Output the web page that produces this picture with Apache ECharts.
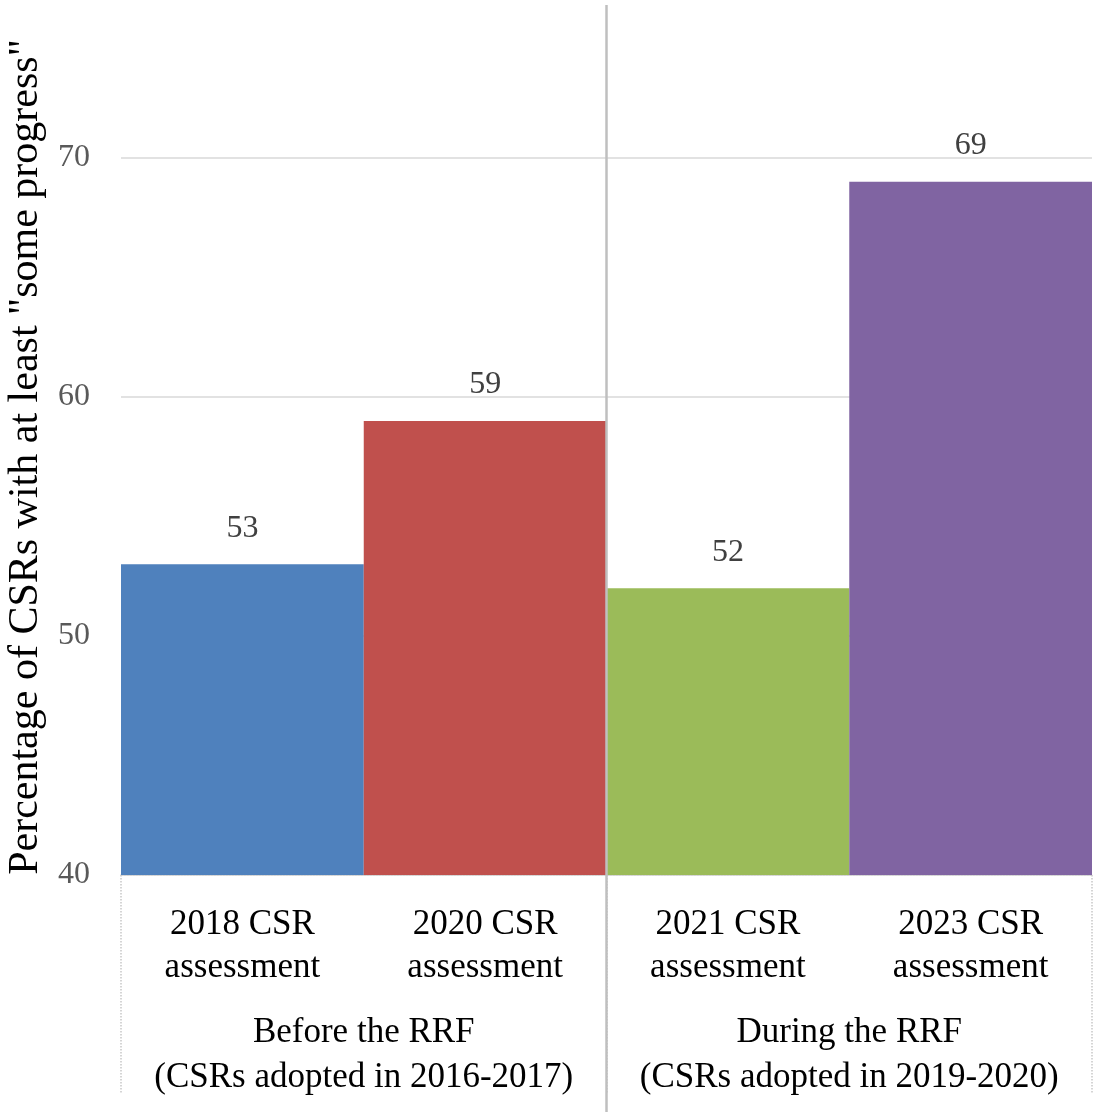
<!DOCTYPE html>
<html>
<head>
<meta charset="utf-8">
<script src="https://cdn.jsdelivr.net/npm/echarts@6/dist/echarts.min.js"></script>
<style>
html,body{margin:0;padding:0;background:#fff;}
#chart{width:1100px;height:1120px;}
</style>
</head>
<body>
<div id="chart"></div>
<script>
const categories = ["2018 CSR\nassessment", "2020 CSR\nassessment", "2021 CSR\nassessment", "2023 CSR\nassessment"];
const groups = ["Before the RRF\n(CSRs adopted in 2016-2017)", "During the RRF\n(CSRs adopted in 2019-2020)"];
const values = [53, 59, 52, 69];
const barColors = ["#4f81bd", "#c0504d", "#9bbb59", "#8064a2"];
const yTicks = [40, 50, 60, 70];
const yAxisTitle = 'Percentage of CSRs with at least "some progress"';

const font = "'Liberation Serif', 'Times New Roman', serif";
const chart = echarts.init(document.getElementById('chart'));
chart.setOption({
  backgroundColor: '#fff',
  animation: false,
  grid: { left: 121, right: 8, top: 5, bottom: 245, containLabel: false, outerBoundsMode: 'none' },
  xAxis: [
    {
      type: 'category', data: categories, position: 'bottom',
      axisLine: { show: true, lineStyle: { color: '#d0d0d0', width: 1.5, type: 'dotted' } },
      axisTick: { show: false },
      axisLabel: { interval: 0, margin: 28, fontSize: 35, lineHeight: 43, color: '#000', fontFamily: font },
      splitLine: { show: false }
    },
    {
      type: 'category', data: groups, position: 'bottom',
      axisLine: { show: false },
      axisTick: { show: true, interval: 0, length: 218, lineStyle: { color: '#c8c8c8', width: 1.5, type: 'dotted' } },
      axisLabel: { interval: 0, margin: 135, fontSize: 35, lineHeight: 45, color: '#000', fontFamily: font },
      splitLine: { show: false }
    },
    {
      type: 'value', min: 0, max: 2, interval: 1, position: 'bottom', z: 10,
      axisLine: { show: false },
      axisLabel: { show: false },
      axisTick: { show: true, customValues: [1], length: 237, lineStyle: { color: '#bfbfbf', width: 2.5 } },
      splitLine: { show: false }
    },
    {
      type: 'value', min: 0, max: 2, interval: 1, position: 'bottom', z: 10,
      axisLine: { show: false },
      axisLabel: { show: false },
      axisTick: { show: false },
      splitLine: { show: true, showMinLine: false, showMaxLine: false, lineStyle: { color: '#bfbfbf', width: 2.5 } }
    }
  ],
  yAxis: {
    type: 'value', min: yTicks[0], max: 76.4, interval: 10,
    name: yAxisTitle, nameLocation: 'middle', nameGap: 73,
    nameTextStyle: { fontSize: 42, color: '#000', fontFamily: font, padding: [0, 34, 0, 0] },
    axisLine: { show: false }, axisTick: { show: false },
    axisLabel: { showMaxLabel: false, margin: 31, fontSize: 32, color: '#595959', fontFamily: font },
    splitLine: { show: true, showMaxLine: false, lineStyle: { color: '#d9d9d9', width: 1.5 } }
  },
  series: [{
    type: 'bar', xAxisIndex: 0,
    barWidth: '100%', barCategoryGap: 0,
    data: values.map((v, i) => ({ value: v, itemStyle: { color: barColors[i] } })),
    label: { show: true, position: 'top', distance: 20, fontSize: 32, color: '#404040', fontFamily: font }
  }]
});
</script>
</body>
</html>
